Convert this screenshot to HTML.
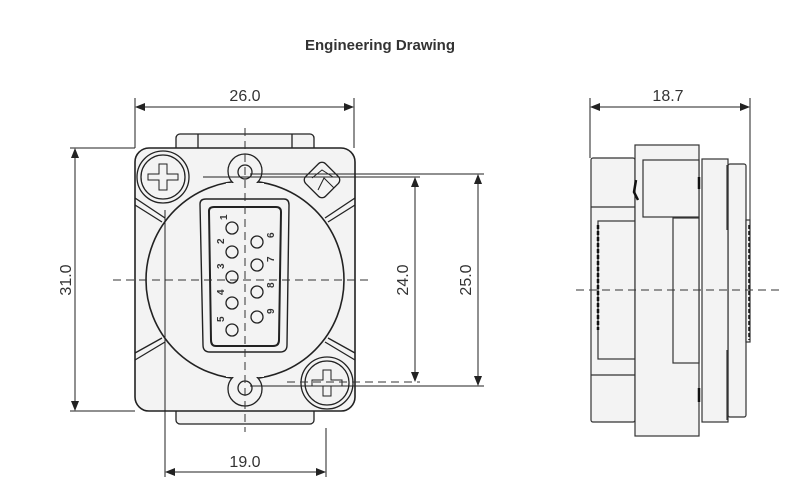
<!DOCTYPE html>
<html><head><meta charset="utf-8"><style>
html,body{margin:0;padding:0;background:#fff;width:800px;height:500px;overflow:hidden}
svg text{font-family:"Liberation Sans",sans-serif;fill:#333}
</style></head><body>
<svg width="800" height="500" viewBox="0 0 800 500" xmlns="http://www.w3.org/2000/svg">
<defs>
<marker id="a" markerWidth="10" markerHeight="8" refX="9" refY="4" orient="auto-start-reverse" markerUnits="userSpaceOnUse"><path d="M0,0 L10,4 L0,8 z" fill="#222"/></marker>
</defs>
<text x="380" y="50" font-size="15" font-weight="bold" text-anchor="middle" fill="#222">Engineering Drawing</text>

<g stroke="#222" fill="#f3f3f3" stroke-width="1.3">
<rect x="176" y="134" width="138" height="20" rx="4"/>
<rect x="176" y="402" width="138" height="22" rx="4"/>
<line x1="198" y1="134" x2="198" y2="148"/><line x1="292" y1="134" x2="292" y2="148"/>
<rect x="135" y="148" width="220" height="263" rx="14" stroke-width="1.6"/>
<line x1="135" y1="198" x2="165" y2="218"/><line x1="135" y1="205" x2="162" y2="222"/>
<line x1="355" y1="198" x2="325" y2="218"/><line x1="355" y1="205" x2="328" y2="222"/>
<line x1="135" y1="360" x2="165" y2="342"/><line x1="135" y1="353" x2="162" y2="338"/>
<line x1="355" y1="360" x2="325" y2="342"/><line x1="355" y1="353" x2="328" y2="338"/>
<circle cx="245" cy="280" r="99" stroke-width="1.6"/>
<circle cx="245" cy="171" r="17"/><circle cx="245" cy="389" r="17"/>
</g>
<rect x="226" y="183" width="38" height="14" fill="#f3f3f3"/>
<rect x="226" y="363" width="38" height="14" fill="#f3f3f3"/>
<g stroke="#222" fill="none" stroke-width="1.3">
<circle cx="245" cy="172" r="7"/><circle cx="245" cy="388" r="7"/>
<circle cx="163" cy="177" r="26" fill="#f3f3f3"/><circle cx="163" cy="177" r="22"/>
<path d="M148,174h11v-10h8v10h11v6h-11v10h-8v-10h-11z" stroke-width="1"/>
<circle cx="327" cy="383" r="26" fill="#f3f3f3"/><circle cx="327" cy="383" r="22"/>
<path d="M312,380h11v-10h8v10h11v6h-11v10h-8v-10h-11z" stroke-width="1"/>
<rect x="308" y="166" width="28" height="28" rx="5" transform="rotate(45 322 180)" fill="#f3f3f3"/>
<path d="M312,178 L322,170 L333,177 M318,190 L324,178 L334,188" stroke-width="1"/>
<path d="M200,204 Q200,199 206,199 L284,199 Q289,199 289,205 L287,345 Q287,352 280,352 L210,352 Q203,352 203,345 Z" fill="#f3f3f3" stroke-width="1.4"/>
<path d="M209,211 Q209,207 214,207 L276,207 Q281,207 281,212 L279,340 Q279,346 273,346 L216,346 Q211,346 211,340 Z" stroke-width="2"/>
<circle cx="232" cy="228" r="6"/><circle cx="232" cy="252" r="6"/><circle cx="232" cy="277" r="6"/><circle cx="232" cy="303" r="6"/><circle cx="232" cy="330" r="6"/>
<circle cx="257" cy="242" r="6"/><circle cx="257" cy="265" r="6"/><circle cx="257" cy="292" r="6"/><circle cx="257" cy="317" r="6"/>
</g>
<g font-size="10" font-weight="bold" fill="#222">
<text transform="translate(227,220) rotate(-90)">1</text>
<text transform="translate(224,244) rotate(-90)">2</text>
<text transform="translate(224,269) rotate(-90)">3</text>
<text transform="translate(224,295) rotate(-90)">4</text>
<text transform="translate(224,322) rotate(-90)">5</text>
<text transform="translate(274,238) rotate(-90)">6</text>
<text transform="translate(274,262) rotate(-90)">7</text>
<text transform="translate(274,288) rotate(-90)">8</text>
<text transform="translate(274,314) rotate(-90)">9</text>
</g>
<g stroke="#333" stroke-width="1" stroke-dasharray="8,5" fill="none">
<line x1="113" y1="280" x2="372" y2="280"/>
<line x1="245" y1="128" x2="245" y2="432"/>
<line x1="287" y1="382" x2="420" y2="382"/>
</g>
<g stroke="#222" stroke-width="1" fill="none">
<line x1="135" y1="98" x2="135" y2="148"/><line x1="354" y1="98" x2="354" y2="148"/>
<line x1="136" y1="107" x2="353" y2="107" marker-start="url(#a)" marker-end="url(#a)"/>
<line x1="70" y1="148" x2="135" y2="148"/><line x1="70" y1="411" x2="135" y2="411"/>
<line x1="75" y1="149" x2="75" y2="410" marker-start="url(#a)" marker-end="url(#a)"/>
<line x1="203" y1="177" x2="420" y2="177"/>
<line x1="250" y1="174" x2="484" y2="174"/><line x1="250" y1="386" x2="484" y2="386"/>
<line x1="415" y1="178" x2="415" y2="381" marker-start="url(#a)" marker-end="url(#a)"/>
<line x1="478" y1="175" x2="478" y2="385" marker-start="url(#a)" marker-end="url(#a)"/>
<line x1="165" y1="210" x2="165" y2="477"/><line x1="326" y1="428" x2="326" y2="477"/>
<line x1="166" y1="472" x2="325" y2="472" marker-start="url(#a)" marker-end="url(#a)"/>
<line x1="590" y1="98" x2="590" y2="158"/><line x1="750" y1="98" x2="750" y2="220"/>
<line x1="591" y1="107" x2="749" y2="107" marker-start="url(#a)" marker-end="url(#a)"/>
</g>
<g font-size="16" fill="#333">
<text x="245" y="101" text-anchor="middle">26.0</text>
<text x="668" y="101" text-anchor="middle">18.7</text>
<text x="245" y="467" text-anchor="middle">19.0</text>
<text transform="translate(71,280) rotate(-90)" text-anchor="middle">31.0</text>
<text transform="translate(408,280) rotate(-90)" text-anchor="middle">24.0</text>
<text transform="translate(471,280) rotate(-90)" text-anchor="middle">25.0</text>
</g>

<g stroke="#333" stroke-width="1.2" fill="#f3f3f3">
<rect x="591" y="158" width="44" height="264" rx="2"/>
<line x1="591" y1="207" x2="635" y2="207"/><line x1="591" y1="375" x2="635" y2="375"/>
<rect x="598" y="221" width="37" height="138"/>
<rect x="635" y="145" width="64" height="291"/>
<rect x="643" y="160" width="56" height="57"/>
<rect x="673" y="218" width="26" height="145"/>
<rect x="728" y="164" width="18" height="253" rx="2"/>
<rect x="702" y="159" width="26" height="263"/>
<rect x="746" y="220" width="4" height="122"/>
<line x1="727" y1="165" x2="727" y2="230"/>
<line x1="727" y1="350" x2="727" y2="420"/>
</g>
<g stroke="#111" stroke-width="2.5" fill="none">
<path d="M636,180 l-2,12 4,8"/><path d="M699,177 v12"/><path d="M699,388 v14"/>
<line x1="598" y1="225" x2="598" y2="330" stroke-dasharray="4,2"/>
<line x1="749" y1="225" x2="749" y2="340" stroke-dasharray="4,2" stroke-width="1.5"/>
</g>
<line x1="576" y1="290" x2="784" y2="290" stroke="#333" stroke-width="1" stroke-dasharray="8,5"/>
</svg>
</body></html>
